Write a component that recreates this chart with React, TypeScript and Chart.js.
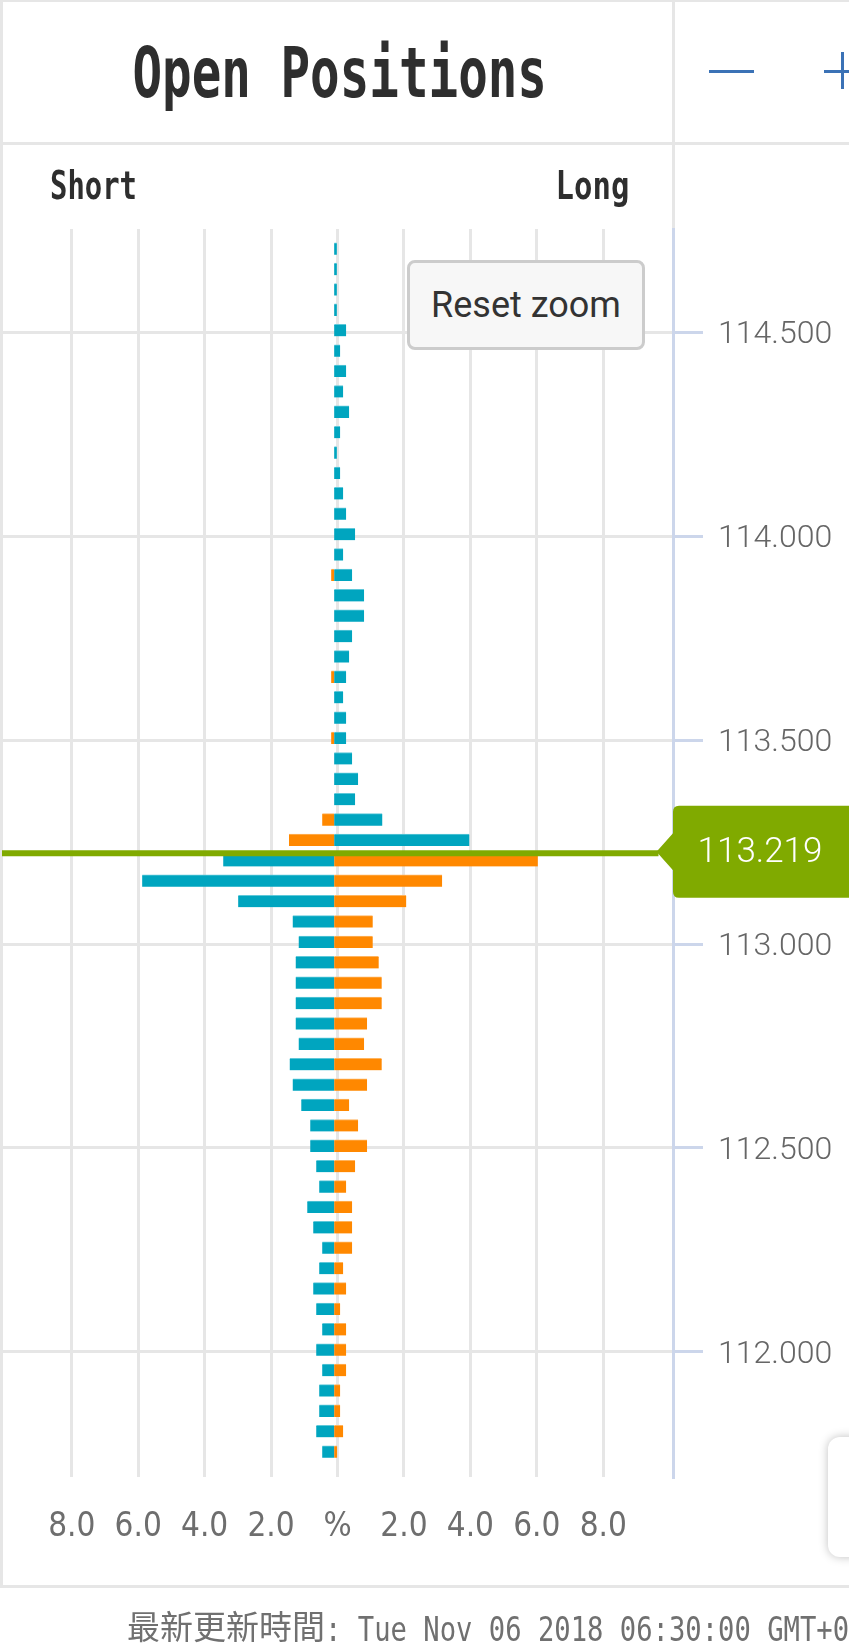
import React, { useEffect, useRef } from 'react';
import { Chart, registerables } from 'chart.js';

Chart.register(...registerables);

// ---- data ----
const prices: number[] = [
  114.70, 114.65, 114.60, 114.55, 114.50, 114.45, 114.40, 114.35, 114.30, 114.25,
  114.20, 114.15, 114.10, 114.05, 114.00, 113.95, 113.90, 113.85, 113.80, 113.75,
  113.70, 113.65, 113.60, 113.55, 113.50, 113.45, 113.40, 113.35, 113.30, 113.25,
  113.20, 113.15, 113.10, 113.05, 113.00, 112.95, 112.90, 112.85, 112.80, 112.75,
  112.70, 112.65, 112.60, 112.55, 112.50, 112.45, 112.40, 112.35, 112.30, 112.25,
  112.20, 112.15, 112.10, 112.05, 112.00, 111.95, 111.90, 111.85, 111.80, 111.75,
];
const shortPct: number[] = [
  0, 0, 0, 0, 0, 0, 0, 0, 0, 0,
  0, 0, 0, 0, 0, 0, 0.09, 0, 0, 0,
  0, 0.09, 0, 0, 0.09, 0, 0, 0, 0.36, 1.36,
  3.34, 5.78, 2.89, 1.25, 1.07, 1.16, 1.16, 1.16, 1.16, 1.07,
  1.34, 1.25, 0.99, 0.72, 0.72, 0.54, 0.45, 0.81, 0.63, 0.36,
  0.45, 0.63, 0.54, 0.36, 0.54, 0.36, 0.45, 0.45, 0.54, 0.36,
];
const longPct: number[] = [
  0.08, 0.08, 0.08, 0.08, 0.36, 0.18, 0.36, 0.27, 0.45, 0.18,
  0.08, 0.18, 0.27, 0.36, 0.63, 0.27, 0.54, 0.90, 0.90, 0.54,
  0.45, 0.36, 0.27, 0.36, 0.36, 0.54, 0.72, 0.63, 1.45, 4.07,
  6.13, 3.25, 2.17, 1.16, 1.16, 1.34, 1.43, 1.43, 0.99, 0.90,
  1.43, 0.99, 0.45, 0.72, 0.99, 0.63, 0.36, 0.54, 0.54, 0.54,
  0.27, 0.36, 0.18, 0.36, 0.36, 0.36, 0.18, 0.18, 0.27, 0.09,
];
const currentPrice = 113.219;
const xTickValues: number[] = [-8, -6, -4, -2, 0, 2, 4, 6, 8];
const yTickValues: number[] = [112.0, 112.5, 113.0, 113.5, 114.0, 114.5];
const yMin = 111.693;
const yMax = 114.7535;
const xMin = -10.1;
const xMax = 10.1;

// ---- styles ----
const TEAL = '#00a5bf';
const TEAL_EDGE = '#5fc8d9';
const ORANGE = '#ff8800';
const ORANGE_EDGE = '#ffb45e';
const GREEN = '#80aa00';
const GRID = '#e6e6e6';
const AXIS = '#ccd6eb';

const above = prices.map((p) => p > currentPrice);
const shortColors = above.map((a) => (a ? ORANGE : TEAL));
const shortEdges = above.map((a) => (a ? ORANGE_EDGE : TEAL_EDGE));
const longColors = above.map((a) => (a ? TEAL : ORANGE));
const longEdges = above.map((a) => (a ? TEAL_EDGE : ORANGE_EDGE));

const priceLinePlugin = {
  id: 'priceLine',
  afterDatasetsDraw(chart: any) {
    const { ctx, chartArea, scales } = chart;
    const yv = scales.y.getPixelForValue(currentPrice);
    const yLine = yv - 1.5;
    const y = yv - 3;
    const boxLeft = chartArea.right;
    const tipX = boxLeft - 16.5;
    ctx.save();
    ctx.strokeStyle = GREEN;
    ctx.lineWidth = 6;
    ctx.beginPath();
    ctx.moveTo(chartArea.left, yLine);
    ctx.lineTo(tipX + 2, yLine);
    ctx.stroke();
    // label with arrow
    const top = y - 46;
    const bottom = y + 46;
    const right = chart.width + 20;
    const r = 6;
    ctx.fillStyle = GREEN;
    ctx.beginPath();
    ctx.moveTo(boxLeft + r, top);
    ctx.lineTo(right, top);
    ctx.lineTo(right, bottom);
    ctx.lineTo(boxLeft + r, bottom);
    ctx.quadraticCurveTo(boxLeft, bottom, boxLeft, bottom - r);
    ctx.lineTo(boxLeft, y + 18.5);
    ctx.lineTo(tipX, y);
    ctx.lineTo(boxLeft, y - 18.5);
    ctx.lineTo(boxLeft, top + r);
    ctx.quadraticCurveTo(boxLeft, top, boxLeft + r, top);
    ctx.closePath();
    ctx.fill();
    ctx.fillStyle = '#ffffff';
    ctx.font = '300 35px Roboto';
    ctx.textAlign = 'center';
    ctx.textBaseline = 'middle';
    ctx.fillText(currentPrice.toFixed(3), 760, y + 2);
    ctx.restore();
  },
};

export default function App() {
  const ref = useRef<HTMLCanvasElement>(null);

  useEffect(() => {
    document.body.style.margin = '0';
    document.body.style.overflow = 'hidden';
    const canvas = ref.current!;
    const chart = new Chart(canvas, {
      type: 'bar',
      data: {
        datasets: [
          {
            label: 'Short',
            data: prices.map((p, i) => ({ x: -shortPct[i], y: p })),
            backgroundColor: shortColors,
            borderColor: shortEdges,
            borderWidth: { top: 1, left: 0, right: 0, bottom: 0 },
            borderSkipped: false,
            barThickness: 12,
            grouped: false,
            xAxisID: 'xb',
            yAxisID: 'yb',
          },
          {
            label: 'Long',
            data: prices.map((p, i) => ({ x: longPct[i], y: p })),
            backgroundColor: longColors,
            borderColor: longEdges,
            borderWidth: { top: 1, left: 0, right: 0, bottom: 0 },
            borderSkipped: false,
            barThickness: 12,
            grouped: false,
            xAxisID: 'xb',
            yAxisID: 'yb',
          },
        ],
      } as any,
      options: {
        indexAxis: 'y',
        animation: false,
        responsive: false,
        maintainAspectRatio: false,
        devicePixelRatio: 1,
        layout: { padding: { left: 2, top: 229, right: 0, bottom: 72 } },
        plugins: { legend: { display: false }, tooltip: { enabled: false } },
        scales: {
          x: {
            type: 'linear',
            position: 'bottom',
            min: xMin,
            max: xMax,
            offset: false,
            afterBuildTicks: (s: any) => {
              s.ticks = xTickValues.map((v) => ({ value: v }));
            },
            afterFit: (s: any) => {
              s.height = 100;
            },
            grid: { color: GRID, lineWidth: 3, drawTicks: false, offset: false },
            border: { display: false },
            ticks: {
              padding: 31,
              color: '#6e6e6e',
              maxRotation: 0,
              autoSkip: false,
              font: { family: '"Liberation Sans Narrow", "DejaVu Sans Condensed", "DejaVu Sans Mono", monospace', size: 33 },
              callback: (v: any) => (Number(v) === 0 ? '%' : Math.abs(Number(v)).toFixed(1)),
            },
          },
          y: {
            type: 'linear',
            position: 'right',
            min: yMin,
            max: yMax,
            offset: false,
            afterBuildTicks: (s: any) => {
              s.ticks = yTickValues.map((v) => ({ value: v }));
            },
            afterFit: (s: any) => {
              s.width = 176;
            },
            grid: { color: GRID, lineWidth: 3, tickColor: AXIS, tickLength: 30, tickWidth: 3, offset: false },
            border: { color: AXIS, width: 3 },
            ticks: {
              padding: 15,
              labelOffset: 3,
              color: '#666666',
              autoSkip: false,
              font: { family: 'Roboto', size: 32, weight: '300' },
              callback: (v: any) => Number(v).toFixed(3),
            },
          },
          xb: { type: 'linear', display: false, offset: false, min: -10.0, max: 10.2, grid: { offset: false } },
          yb: { type: 'linear', display: false, offset: false, min: yMin - 0.005, max: yMax - 0.005, grid: { offset: false } },
        },
      } as any,
      plugins: [priceLinePlugin],
    });
    return () => chart.destroy();
  }, []);

  const mono = '"DejaVu Sans Mono", monospace';

  return (
    <div style={{ position: 'relative', width: 849, height: 1649, overflow: 'hidden', background: '#ffffff' }}>
      {/* outer frame */}
      <div
        style={{
          position: 'absolute', left: 0, top: 0, width: 1000, height: 1588, boxSizing: 'border-box',
          borderTop: '2px solid #e6e6e6', borderLeft: '3px solid #e6e6e6', borderBottom: '3px solid #e6e6e6',
        }}
      />
      <div style={{ position: 'absolute', left: 0, top: 142, width: 849, height: 3, background: '#e6e6e6' }} />
      <div style={{ position: 'absolute', left: 672, top: 0, width: 3, height: 229, background: '#e6e6e6' }} />

      <canvas
        ref={ref}
        width={849}
        height={1649}
        style={{ position: 'absolute', left: 0, top: 0, width: 849, height: 1649 }}
      />

      {/* header */}
      <div
        style={{
          position: 'absolute', left: 0, top: 38.7, width: 679.4, textAlign: 'center', whiteSpace: 'nowrap',
          fontFamily: mono, fontWeight: 'bold', fontSize: 68.6, lineHeight: '68.6px', color: '#2e2e2e',
          transform: 'scaleX(0.717)', transformOrigin: 'center top',
        }}
      >
        Open Positions
      </div>
      <div style={{ position: 'absolute', left: 709, top: 69.5, width: 45, height: 3, background: '#3b72b6' }} />
      <div style={{ position: 'absolute', left: 824, top: 69.5, width: 40, height: 3, background: '#3b72b6' }} />
      <div style={{ position: 'absolute', left: 840.5, top: 52, width: 3, height: 37, background: '#3b72b6' }} />

      <div
        style={{
          position: 'absolute', left: 50, top: 167.2, whiteSpace: 'nowrap',
          fontFamily: mono, fontWeight: 'bold', fontSize: 38.8, lineHeight: '38.8px', color: '#2e2e2e',
          transform: 'scaleX(0.745)', transformOrigin: 'left top',
        }}
      >
        Short
      </div>
      <div
        style={{
          position: 'absolute', right: 220, top: 167.2, whiteSpace: 'nowrap',
          fontFamily: mono, fontWeight: 'bold', fontSize: 38.8, lineHeight: '38.8px', color: '#2e2e2e',
          transform: 'scaleX(0.79)', transformOrigin: 'right top',
        }}
      >
        Long
      </div>

      {/* reset zoom button */}
      <div
        style={{
          position: 'absolute', left: 407, top: 260, width: 238, height: 90, boxSizing: 'border-box',
          border: '3px solid #cccccc', borderRadius: 8, background: '#f7f7f7',
          display: 'flex', alignItems: 'center', justifyContent: 'center',
          fontFamily: 'Roboto', fontSize: 36, color: '#333333', whiteSpace: 'nowrap',
        }}
      >
        Reset zoom
      </div>

      {/* partially visible card at bottom right */}
      <div
        style={{
          position: 'absolute', left: 828, top: 1437, width: 80, height: 120, borderRadius: 12,
          background: '#ffffff', boxShadow: '0 0 10px rgba(0,0,0,0.25)',
        }}
      />

      {/* footer */}
      <div
        style={{
          position: 'absolute', left: 127, top: 1609.4, whiteSpace: 'nowrap',
          fontFamily: '"Noto Sans CJK TC", sans-serif', fontSize: 33, lineHeight: '33px', color: '#707070',
        }}
      >
        最新更新時間
      </div>
      <div
        style={{
          position: 'absolute', left: 325, top: 1611.5, whiteSpace: 'nowrap',
          fontFamily: mono, fontSize: 34, lineHeight: '34px', color: '#707070',
          transform: 'scaleX(0.80)', transformOrigin: 'left top',
        }}
      >
        : Tue Nov 06 2018 06:30:00 GMT+0900
      </div>
    </div>
  );
}
